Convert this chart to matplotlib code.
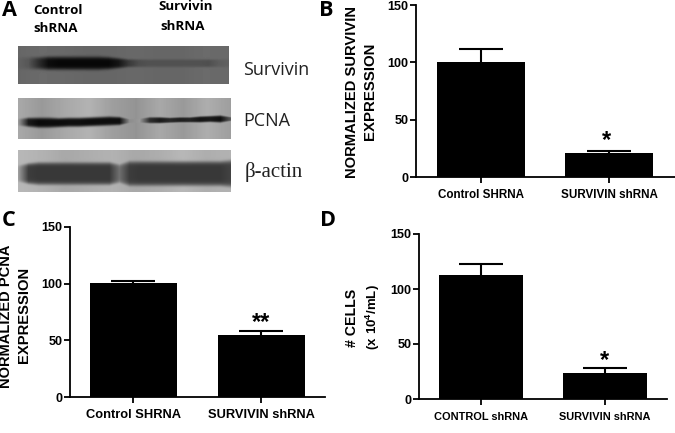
# Western blot panel and three bar charts
import numpy as np
import matplotlib
matplotlib.use("Agg")
import matplotlib.pyplot as plt

W, H = 675, 433

# bar panels
labels_b = ["Control SHRNA", "SURVIVIN shRNA"]
means_b = [100, 20.5]
errs_b = [11.6, 2.3]
labels_c = ["Control SHRNA", "SURVIVIN shRNA"]
means_c = [100.5, 55]
errs_c = [1.8, 3.5]
labels_d = ["CONTROL shRNA", "SURVIVIN shRNA"]
means_d = [112.5, 23.5]
errs_d = [10, 4.5]
yticks = [0, 50, 100, 150]

# blot profiles, one value every 10 px across the strip (0 = black, 1 = white)
survivin_band = [.38, .34, .18, .05, .03, .03, .03, .03, .03, .03, .08, .22, .30, .32, .32, .32, .32, .32, .32, .31, .36, .38]
survivin_y = [.44] * 22
survivin_w = [6, 6, 6, 6.5, 6.5, 6.5, 6.5, 6.5, 6.5, 6, 5, 4, 4, 4, 4, 4, 4, 4, 4, 4, 4, 4]
survivin_bg = [.40, .42, .41, .40, .40, .41, .40, .40, .42, .41]

pcna_band = [.60, .10, .04, .05, .05, .06, .06, .05, .05, .05, .05, .55, .60, .18, .10, .16, .12, .14, .08, .10, .06, .35]
pcna_y = [.58, .58, .59, .59, .59, .58, .58, .57, .56, .55, .55, .55, .54, .53, .53, .53, .52, .52, .51, .50, .50, .50]
pcna_w = [3.5, 4.5, 5, 5, 4.5, 4.5, 4.5, 4.5, 4.5, 4.5, 4, 2, 2, 3, 3, 2.5, 2.5, 2.5, 3, 3, 3.5, 2]
pcna_bg = [.66, .60, .66, .70, .62, .58, .66, .60, .68, .62]

actin_band = [.62, .24, .22, .22, .22, .22, .22, .22, .22, .22, .44, .24, .22, .22, .22, .22, .22, .22, .22, .22, .22, .26]
actin_y = [.55] * 22
actin_w = [8, 10, 11, 11, 11, 11, 11, 11, 11, 11, 9, 12, 12, 12, 12, 12, 12, 12, 12, 12, 12, 13]
actin_bg = [.72, .70, .66, .68, .70, .66, .68, .72, .68, .70]

plt.rcParams["font.family"] = ["Liberation Sans", "DejaVu Sans"]
plt.rcParams["mathtext.fontset"] = "custom"
plt.rcParams["mathtext.rm"] = "Liberation Sans"
plt.rcParams["mathtext.bf"] = "Liberation Sans:bold"
fig = plt.figure(figsize=(W / 100, H / 100), dpi=100)


def px_axes(left, top, right, bottom):
    return fig.add_axes([left / W, 1 - bottom / H, (right - left) / W, (bottom - top) / H])


def blot(left, top, right, bottom, band, center, width, bg, edge=4):
    ax = px_axes(left, top, right, bottom)
    h = bottom - top
    n = right - left
    xs = np.arange(n)
    cols = np.arange(len(band)) * (n - 1) / (len(band) - 1)
    bgx = np.arange(len(bg)) * (n - 1) / (len(bg) - 1)
    val = np.interp(xs, cols, band)
    cy = np.interp(xs, cols, center) * h
    wd = np.interp(xs, cols, width)
    back = np.interp(xs, bgx, bg)
    yy = np.arange(h)[:, None]
    weight = np.exp(-(np.abs(yy - cy) / wd) ** edge)
    img = back * (1 - weight) + val * weight
    ax.imshow(img, cmap="gray", vmin=0, vmax=1, aspect="auto", interpolation="bilinear")
    ax.axis("off")


def bar_panel(left, top, right, bottom, c1, c2, bar_w, labels, means, errs, label_size):
    ax = px_axes(left, top, right, bottom)
    step = c2 - c1
    ax.set_xlim((left - c1) / step, (right - c1) / step)
    ax.set_ylim(0, 150)
    ax.bar([0, 1], means, width=bar_w / step, color="black")
    eb = ax.errorbar([0, 1], means, yerr=[[0, 0], errs], fmt="none", ecolor="black",
                     elinewidth=1.5, capsize=16, capthick=1.5)
    eb[1][0].set_visible(False)  # lower caps would sit on the bar top
    ax.spines["top"].set_visible(False)
    ax.spines["right"].set_visible(False)
    ax.spines["left"].set_linewidth(1.3)
    ax.spines["bottom"].set_linewidth(1.3)
    ax.set_yticks(yticks)
    ax.set_xticks([0, 1])
    ax.set_xticklabels(labels, fontweight="bold", fontsize=label_size)
    ax.tick_params(axis="y", labelsize=9, width=1.3, length=4, pad=1.5)
    ax.tick_params(axis="x", width=1.3, length=4, pad=5)
    for t in ax.get_yticklabels():
        t.set_fontweight("bold")
    return ax


def px_text(x, y, s, **kw):
    fig.text(x / W, 1 - y / H, s, ha=kw.pop("ha", "center"), va=kw.pop("va", "center"), **kw)


# panel A
blot(18, 46, 229, 84, survivin_band, survivin_y, survivin_w, survivin_bg)
blot(18, 98, 231, 139, pcna_band, pcna_y, pcna_w, pcna_bg)
blot(18, 150, 231, 192, actin_band, actin_y, actin_w, actin_bg, edge=7)
px_text(33, 10, "Control", family="Open Sans", fontweight="bold", fontsize=9.6, ha="left")
px_text(33, 29, "shRNA", family="Open Sans", fontweight="bold", fontsize=9.6, ha="left")
px_text(158, 7, "Survivin", family="Open Sans", fontweight="bold", fontsize=9.6, ha="left")
px_text(160, 27, "shRNA", family="Open Sans", fontweight="bold", fontsize=9.6, ha="left")
px_text(243, 70, "Survivin", family="Open Sans", fontsize=13, ha="left", color="#222222")
px_text(243, 121, "PCNA", family="Open Sans", fontsize=13, ha="left", color="#222222")
px_text(245, 172, "β-actin", family="Liberation Serif", fontsize=15, ha="left", color="#222222")

# panels B, C, D
bar_panel(416, 5, 675, 177, 481, 609, 88, labels_b, means_b, errs_b, 8.4)
bar_panel(70, 227, 325, 397, 133, 261, 87, labels_c, means_c, errs_c, 9.3)
bar_panel(419, 234, 667, 399, 481, 605, 84, labels_d, means_d, errs_d, 7.9)

# panel letters
for x, y, s in [(9, 11, "A"), (326, 10, "B"), (9, 221, "C"), (328, 221, "D")]:
    px_text(x, y, s, family="Open Sans", fontweight="bold", fontsize=15.6)

# y axis titles
px_text(352, 92, "NORMALIZED SURVIVIN", fontweight="bold", fontsize=10.6, rotation=90)
px_text(370, 91, "EXPRESSION", fontweight="bold", fontsize=10.8, rotation=90)
px_text(6, 316, "NORMALIZED PCNA", fontweight="bold", fontsize=10.5, rotation=90)
px_text(24, 315, "EXPRESSION", fontweight="bold", fontsize=10.6, rotation=90)
px_text(352, 318, "# CELLS", fontweight="bold", fontsize=10.2, rotation=90)
px_text(373, 317, r"$\mathbf{(x\ 10^4/mL)}$", fontsize=9.5, rotation=90)

# significance marks
px_text(607, 141, "*", fontweight="bold", fontsize=17)
px_text(261, 323, "**", fontweight="bold", fontsize=17)
px_text(605, 361, "*", fontweight="bold", fontsize=17)

fig.savefig("out.png", dpi=100)
